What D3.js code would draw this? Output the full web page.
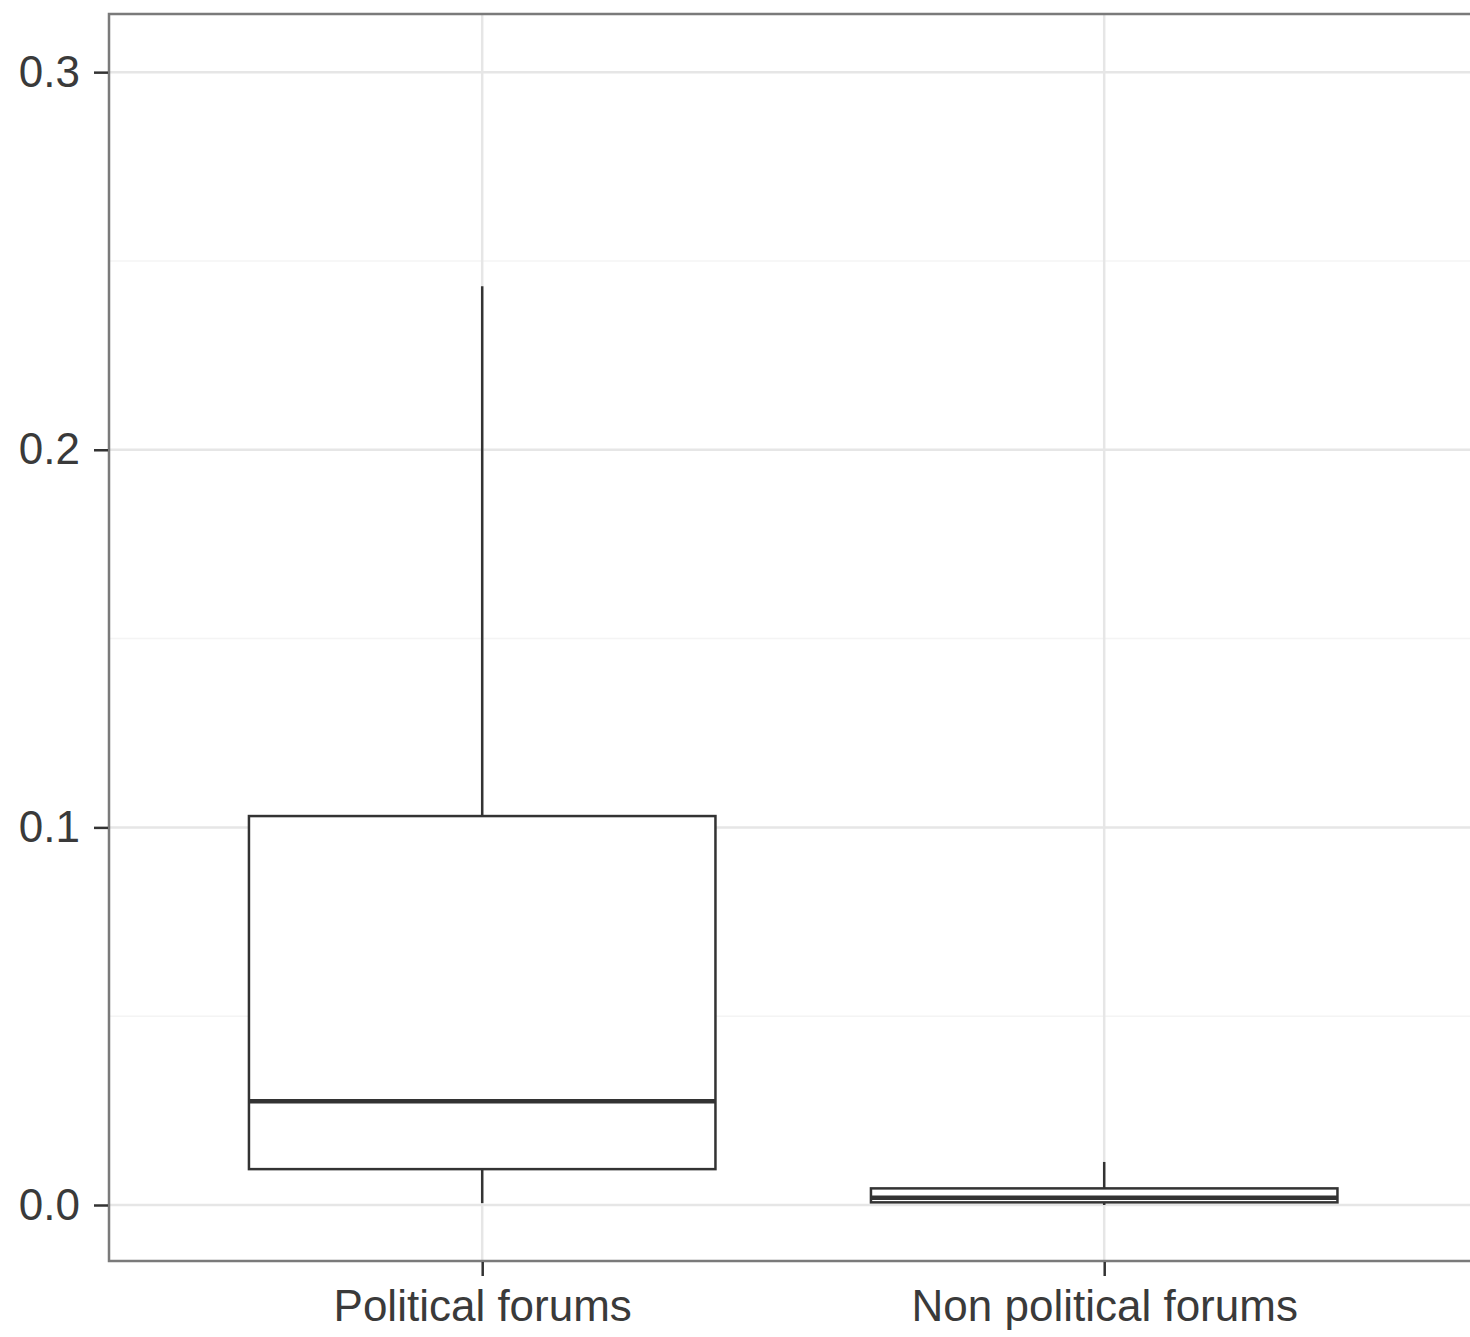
<!DOCTYPE html>
<html><head><meta charset="utf-8">
<script src="https://cdn.jsdelivr.net/npm/d3@7"></script>
<style>body{margin:0;background:#fff}svg{display:block}</style>
</head><body>
<script>
const categories = ["Political forums", "Non political forums"];
const whiskerLow = [0.0005, 0.0];
const q1 = [0.0095, 0.0007];
const median = [0.0275, 0.0019];
const q3 = [0.103, 0.0044];
const whiskerHigh = [0.2433, 0.0114];
const yTicks = [0.0, 0.1, 0.2, 0.3];
const yMinorTicks = [0.05, 0.15, 0.25];

const W = 1470, H = 1337;
const panel = {left: 109, top: 14, bottom: 1261};
const step = 622;
const panelRight = panel.left + 2.2 * step;

const svg = d3.select("body").append("svg").attr("width", W).attr("height", H);

// discrete x positions with ggplot-like 0.6 unit expansion
const xc = d3.scalePoint().domain(categories)
  .range([panel.left + 0.6 * step, panel.left + 1.6 * step]);
const y = d3.scaleLinear().domain([-0.01483, 0.3154]).range([panel.bottom, panel.top]);

// grid
const g = svg.append("g");
g.selectAll(".minor").data(yMinorTicks).join("line")
  .attr("x1", panel.left).attr("x2", panelRight)
  .attr("y1", d => y(d)).attr("y2", d => y(d))
  .attr("stroke", "#f4f4f4").attr("stroke-width", 1.5);
g.selectAll(".major").data(yTicks).join("line")
  .attr("x1", panel.left).attr("x2", panelRight)
  .attr("y1", d => y(d)).attr("y2", d => y(d))
  .attr("stroke", "#e6e6e6").attr("stroke-width", 2.5);
g.selectAll(".vmajor").data(categories).join("line")
  .attr("x1", d => xc(d)).attr("x2", d => xc(d))
  .attr("y1", panel.top).attr("y2", panel.bottom)
  .attr("stroke", "#e6e6e6").attr("stroke-width", 2.5);

// boxes
const bw = 0.75 * step;
const data = categories.map((c, i) => ({c, lo: whiskerLow[i], q1: q1[i], med: median[i], q3: q3[i], hi: whiskerHigh[i]}));
const bx = svg.append("g").selectAll("g").data(data).join("g");
bx.append("line").attr("x1", d => xc(d.c)).attr("x2", d => xc(d.c))
  .attr("y1", d => y(d.q3)).attr("y2", d => y(d.hi))
  .attr("stroke", "#333").attr("stroke-width", 2.5);
bx.append("line").attr("x1", d => xc(d.c)).attr("x2", d => xc(d.c))
  .attr("y1", d => y(d.q1)).attr("y2", d => y(d.lo))
  .attr("stroke", "#333").attr("stroke-width", 2.5);
bx.append("rect").attr("x", d => xc(d.c) - bw / 2).attr("width", bw)
  .attr("y", d => y(d.q3)).attr("height", d => y(d.q1) - y(d.q3))
  .attr("fill", "#fff").attr("stroke", "#333").attr("stroke-width", 2.5);
bx.append("line").attr("x1", d => xc(d.c) - bw / 2).attr("x2", d => xc(d.c) + bw / 2)
  .attr("y1", d => y(d.med)).attr("y2", d => y(d.med))
  .attr("stroke", "#333").attr("stroke-width", 4.5);

// panel border
svg.append("rect").attr("x", panel.left).attr("y", panel.top)
  .attr("width", panelRight - panel.left).attr("height", panel.bottom - panel.top)
  .attr("fill", "none").attr("stroke", "#7a7a7a").attr("stroke-width", 2.5);

// axes
const yAxis = d3.axisLeft(y).tickValues(yTicks).tickFormat(d3.format(".1f")).tickSize(14).tickPadding(14);
const ya = svg.append("g").attr("transform", `translate(${panel.left - 1},0)`).call(yAxis);
ya.select(".domain").remove();
ya.selectAll("line").attr("stroke", "#333").attr("stroke-width", 2.5);
ya.selectAll("text").attr("font-family", "Liberation Sans, Arial, sans-serif")
  .attr("font-size", 44).attr("fill", "#3a3a3a");

const xAxis = d3.axisBottom(xc).tickSize(14).tickPadding(14);
const xa = svg.append("g").attr("transform", `translate(0,${panel.bottom + 1})`).call(xAxis);
xa.select(".domain").remove();
xa.selectAll("line").attr("stroke", "#333").attr("stroke-width", 2.5);
xa.selectAll("text").attr("font-family", "Liberation Sans, Arial, sans-serif")
  .attr("font-size", 44).attr("fill", "#3a3a3a");
</script>
</body></html>
